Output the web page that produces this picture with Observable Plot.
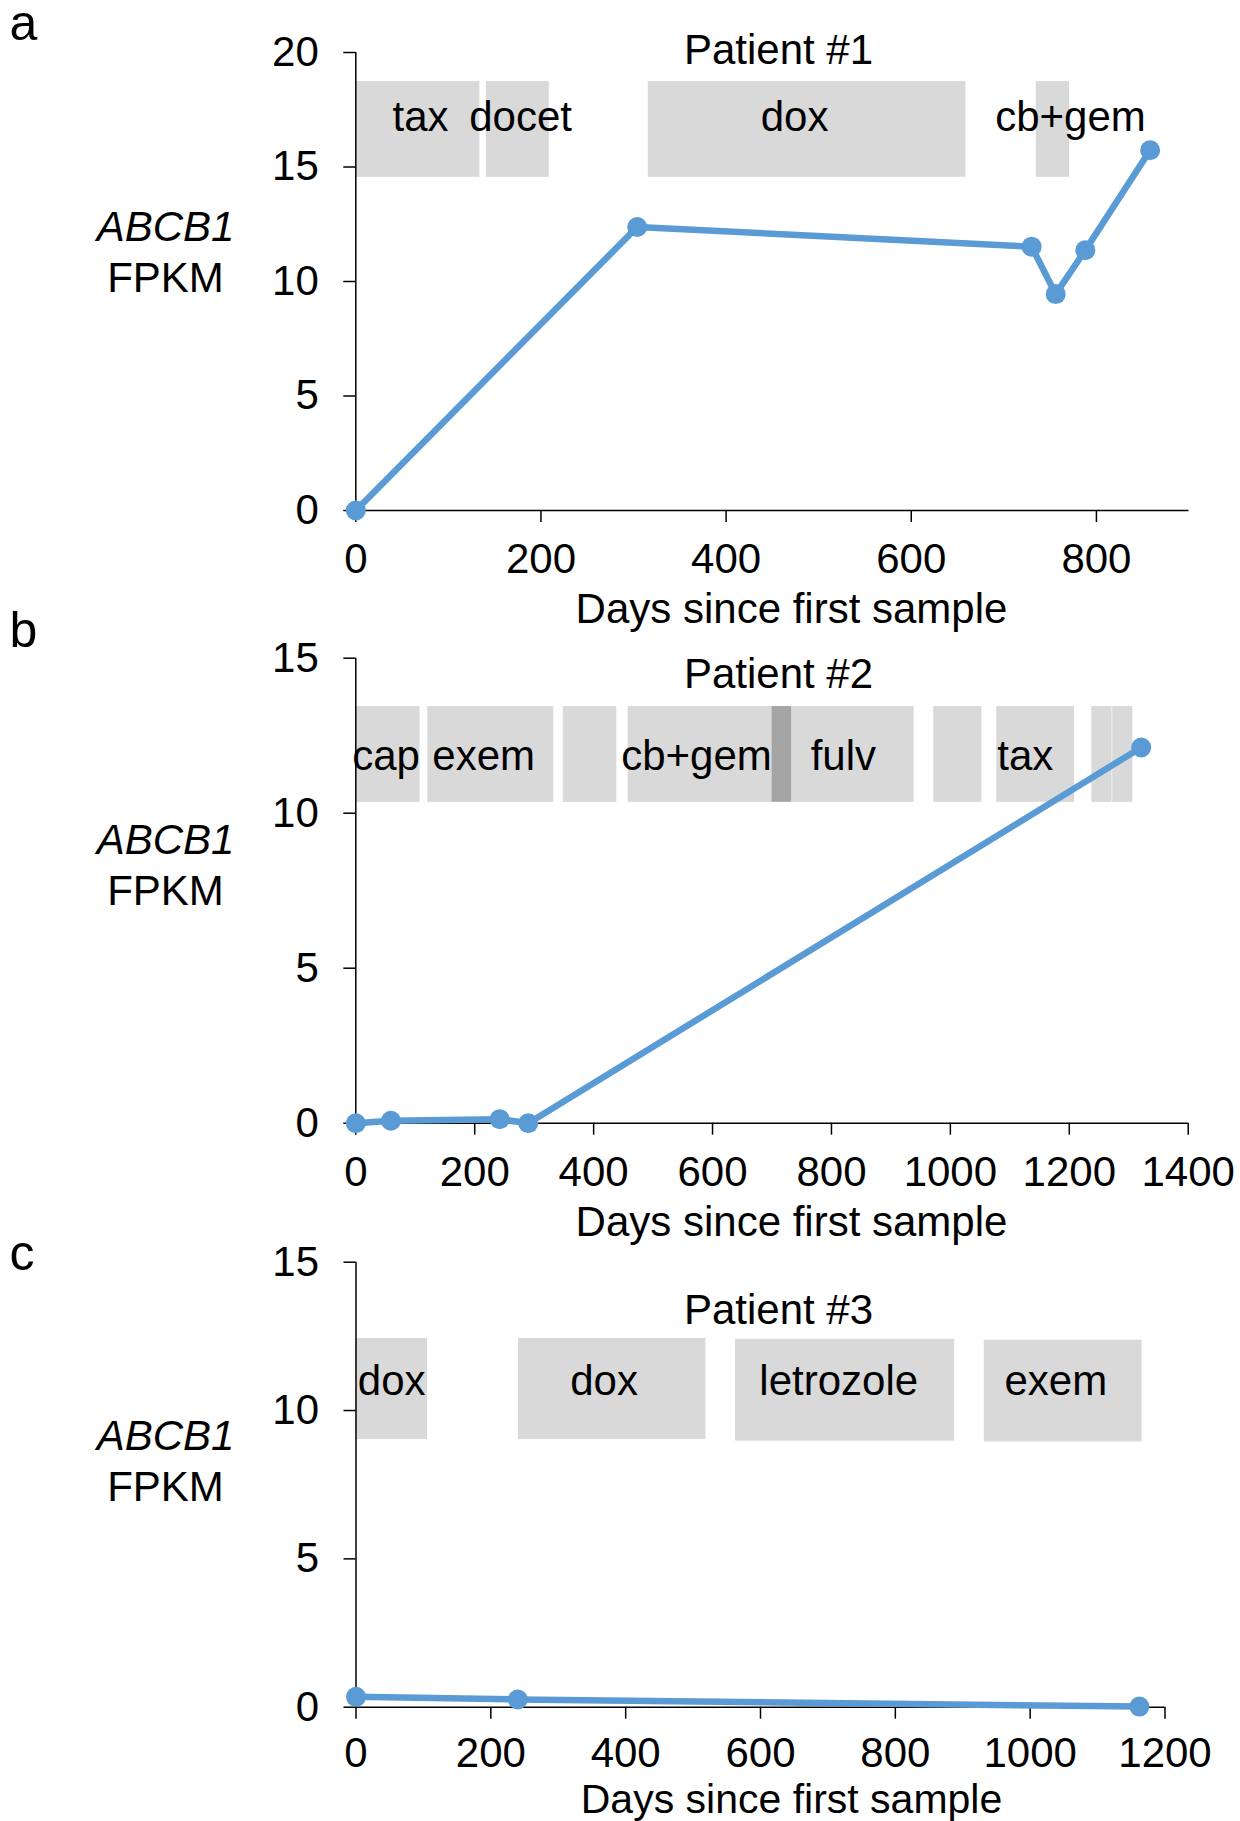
<!DOCTYPE html>
<html><head><meta charset="utf-8">
<script src="https://cdn.jsdelivr.net/npm/d3@7"></script>
<script src="https://cdn.jsdelivr.net/npm/@observablehq/plot@0.6"></script>
<style>
html,body{margin:0;padding:0;background:#fff;}
#fig{position:relative;width:1240px;height:1821px;overflow:hidden;background:#fff;}
#fig > .panel{position:absolute;left:0;}
</style></head><body><div id="fig"></div>
<script>
// ---------------- DATA ----------------
// Patient #1
const p1Days = [0, 304, 730, 756, 788, 858];
const p1Fpkm = [0, 12.38, 11.52, 9.45, 11.37, 15.73];
const p1TreatStart = [0, 141, 316, 735];
const p1TreatEnd   = [134, 209, 659, 771];
const p1TreatLow   = [14.55, 14.55, 14.55, 14.55];
const p1TreatHigh  = [18.73, 18.73, 18.73, 18.73];
const p1LabelText  = ["tax", "docet", "dox", "cb+gem"];
const p1LabelDay   = [70, 178, 474, 772];
const p1LabelLevel = [16.56, 16.56, 16.56, 16.56];
const p1XTicks = [0, 200, 400, 600, 800];
const p1YTicks = [0, 5, 10, 15, 20];

// Patient #2
const p2Days = [0, 59, 242, 290, 1321];
const p2Fpkm = [0.0, 0.08, 0.13, 0.0, 12.12];
const p2TreatStart = [0, 121, 349, 458, 733, 972, 1078, 1238, 1273];
const p2TreatEnd   = [108, 333, 439, 700, 939, 1053, 1209, 1272, 1307];
const p2TreatLow   = [10.35, 10.35, 10.35, 10.35, 10.35, 10.35, 10.35, 10.35, 10.35];
const p2TreatHigh  = [13.44, 13.44, 13.44, 13.44, 13.44, 13.44, 13.44, 13.44, 13.44];
const p2OverlapStart = [700];
const p2OverlapEnd   = [733];
const p2OverlapLow   = [10.35];
const p2OverlapHigh  = [13.44];
const p2LabelText  = ["cap", "exem", "cb+gem", "fulv", "tax"];
const p2LabelDay   = [51, 215, 573, 820, 1126];
const p2LabelLevel = [11.39, 11.39, 11.39, 11.39, 11.39];
const p2XTicks = [0, 200, 400, 600, 800, 1000, 1200, 1400];
const p2YTicks = [0, 5, 10, 15];

// Patient #3
const p3Days = [0, 240, 1162];
const p3Fpkm = [0.35, 0.26, 0.02];
const p3TreatStart = [0, 241, 563, 932];
const p3TreatEnd   = [106, 519, 888, 1166];
const p3TreatLow   = [9.02, 9.02, 8.97, 8.94];
const p3TreatHigh  = [12.43, 12.43, 12.40, 12.37];
const p3LabelText  = ["dox", "dox", "letrozole", "exem"];
const p3LabelDay   = [53, 368, 716, 1038];
const p3LabelLevel = [10.51, 10.51, 10.51, 10.51];
const p3XTicks = [0, 200, 400, 600, 800, 1000, 1200];
const p3YTicks = [0, 5, 10, 15];

const xTitle = "Days since first sample";
const geneName = "ABCB1";
const unitName = "FPKM";

// ---------------- STYLE ----------------
const FONT = '"Liberation Sans", Arial, Helvetica, sans-serif';
const BLUE = "#5B9BD5";
const BOX = "#D9D9D9";
const BOX_DARK = "#A5A5A5";

function zipBoxes(s, e, lo, hi) {
  return s.map((d, i) => ({s: d, e: e[i], lo: lo[i], hi: hi[i]}));
}
function zipPts(x, y) { return x.map((d, i) => ({day: d, v: y[i]})); }
function zipLabels(t, x, y) { return t.map((d, i) => ({t: d, day: x[i], lvl: y[i]})); }

function panel(cfg) {
  const {top, height, mt, mb, ml, mr, xDomain, xTicks, yDomain, yTicks,
         pts, boxes, dark, labels, letter, title, ann, xPad, xlabSize} = cfg;
  const frameTopAbs = top + mt;
  const at = (text, ax, ay, extra = {}) =>
    Plot.text([text], {frameAnchor: "top-left", dx: ax - ml, dy: ay - frameTopAbs,
      text: d => d, lineAnchor: "bottom", fill: "#000", ...extra});
  const marks = [
    Plot.rect(boxes, {x1: "s", x2: "e", y1: "lo", y2: "hi", fill: BOX}),
    dark ? Plot.rect(dark, {x1: "s", x2: "e", y1: "lo", y2: "hi", fill: BOX_DARK}) : null,
    Plot.text(labels, {x: "day", y: "lvl", text: "t", lineAnchor: "bottom", fill: "#000"}),
    Plot.axisX({ticks: xTicks, tickSize: 12, tickPadding: xPad, tickFormat: "d", label: null, strokeWidth: 1.5}),
    Plot.axisY({ticks: yTicks, tickSize: 12, tickPadding: 25, tickFormat: "d", label: null, strokeWidth: 1.5}),
    Plot.ruleY([0], {stroke: "#000", strokeWidth: 1.5}),
    Plot.ruleX([0], {stroke: "#000", strokeWidth: 1.5}),
    Plot.line(pts, {x: "day", y: "v", stroke: BLUE, strokeWidth: 6.5, strokeLinejoin: "round"}),
    Plot.dot(pts, {x: "day", y: "v", r: 10, fill: BLUE, stroke: "none"}),
    at(letter, 9, ann.letterY, {textAnchor: "start", fontSize: 50}),
    at(title, 778, ann.titleY, {textAnchor: "middle"}),
    at(geneName, 165, ann.geneY, {textAnchor: "middle", fontStyle: "italic"}),
    at(unitName, 165, ann.unitY, {textAnchor: "middle"}),
    at(xTitle, 791, ann.xlabY, {textAnchor: "middle", fontSize: xlabSize})
  ].filter(Boolean);
  const svg = Plot.plot({
    width: 1240, height,
    marginTop: mt, marginBottom: mb, marginLeft: ml, marginRight: mr,
    x: {domain: xDomain, label: null},
    y: {domain: yDomain, label: null},
    style: {fontFamily: FONT, fontSize: "42px", background: "transparent", color: "#000", overflow: "visible"},
    marks
  });
  const wrap = document.createElement("div");
  wrap.className = "panel";
  wrap.style.top = top + "px";
  wrap.appendChild(svg);
  document.getElementById("fig").appendChild(wrap);
}

panel({
  top: 0, height: 640, mt: 52, mb: 130, ml: 355.3, mr: 51.5,
  xDomain: [0, 900], xTicks: p1XTicks, yDomain: [0, 20], yTicks: p1YTicks,
  pts: zipPts(p1Days, p1Fpkm),
  boxes: zipBoxes(p1TreatStart, p1TreatEnd, p1TreatLow, p1TreatHigh),
  dark: null,
  labels: zipLabels(p1LabelText, p1LabelDay, p1LabelLevel),
  letter: "a", title: "Patient #1", xPad: 21, xlabSize: 42,
  ann: {letterY: 39, titleY: 63, geneY: 240, unitY: 291, xlabY: 622}
});

panel({
  top: 610, height: 640, mt: 47.7, mb: 127.3, ml: 355.3, mr: 52.3,
  xDomain: [0, 1400], xTicks: p2XTicks, yDomain: [0, 15], yTicks: p2YTicks,
  pts: zipPts(p2Days, p2Fpkm),
  boxes: zipBoxes(p2TreatStart, p2TreatEnd, p2TreatLow, p2TreatHigh),
  dark: zipBoxes(p2OverlapStart, p2OverlapEnd, p2OverlapLow, p2OverlapHigh),
  labels: zipLabels(p2LabelText, p2LabelDay, p2LabelLevel),
  letter: "b", title: "Patient #2", xPad: 21, xlabSize: 42,
  ann: {letterY: 646, titleY: 687, geneY: 853.5, unitY: 904.5, xlabY: 1235}
});

panel({
  top: 1220, height: 601, mt: 41.7, mb: 114.3, ml: 355.5, mr: 75.5,
  xDomain: [0, 1200], xTicks: p3XTicks, yDomain: [0, 15], yTicks: p3YTicks,
  pts: zipPts(p3Days, p3Fpkm),
  boxes: zipBoxes(p3TreatStart, p3TreatEnd, p3TreatLow, p3TreatHigh),
  dark: null,
  labels: zipLabels(p3LabelText, p3LabelDay, p3LabelLevel),
  letter: "c", title: "Patient #3", xPad: 18, xlabSize: 41,
  ann: {letterY: 1269, titleY: 1323, geneY: 1449, unitY: 1500, xlabY: 1812}
});
</script></body></html>
